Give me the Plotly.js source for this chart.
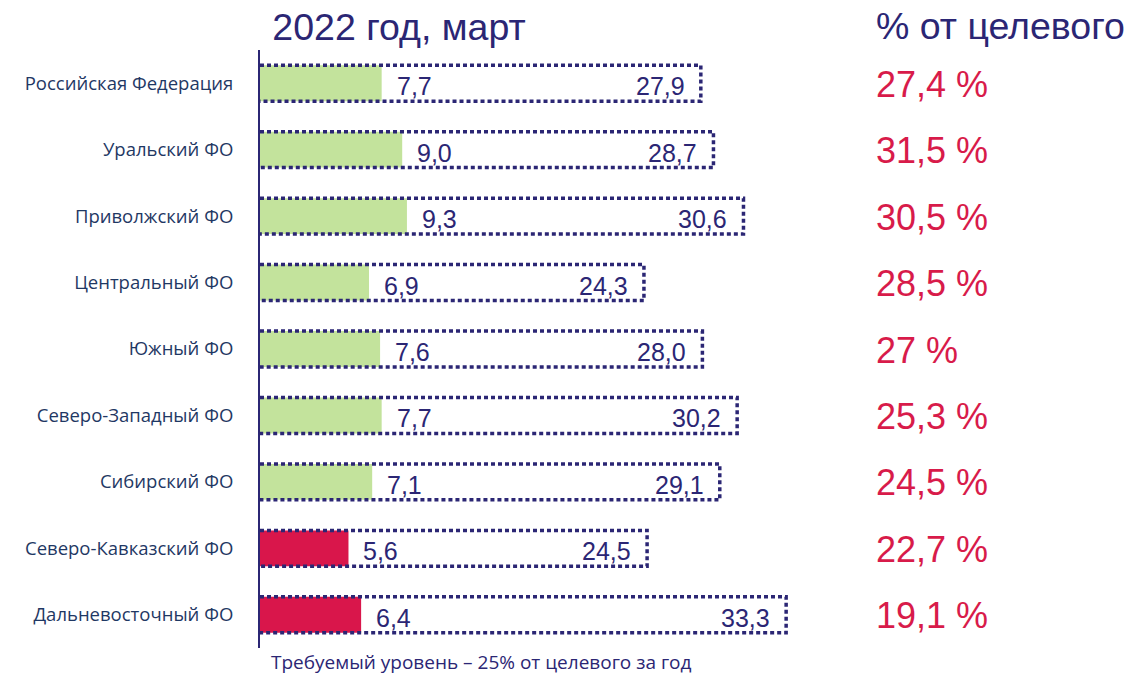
<!DOCTYPE html>
<html>
<head>
<meta charset="utf-8">
<script src="https://cdn.plot.ly/plotly-3.0.1.min.js"></script>
<style>html,body{margin:0;padding:0;background:#fff;}#chart{width:1130px;height:674px;}</style>
</head>
<body>
<div id="chart"></div>
<script>
// Data
const regions = ['Российская Федерация', 'Уральский ФО', 'Приволжский ФО', 'Центральный ФО', 'Южный ФО',
  'Северо-Западный ФО', 'Сибирский ФО', 'Северо-Кавказский ФО', 'Дальневосточный ФО'];
const actual = [7.7, 9.0, 9.3, 6.9, 7.6, 7.7, 7.1, 5.6, 6.4];
const target = [27.9, 28.7, 30.6, 24.3, 28.0, 30.2, 29.1, 24.5, 33.3];
const pctOfTarget = [27.4, 31.5, 30.5, 28.5, 27, 25.3, 24.5, 22.7, 19.1];
const status = ['ok', 'ok', 'ok', 'ok', 'ok', 'ok', 'ok', 'low', 'low'];
const titleText = '2022 год, март';
const pctTitle = '% от целевого';
const footnote = 'Требуемый уровень – 25% от целевого за год';

const NAVY = '#2b2674';
const LABEL = '#1f3864';
const GREEN = '#c3e39c';
const RED = '#d9164b';
const PINK = '#d81b4a';
const HALF = 0.27;

const fmt1 = v => v.toFixed(1).replace('.', ',');
const fmtPct = v => (Number.isInteger(v) ? String(v) : v.toFixed(1)).replace('.', ',');
const idx = regions.map((_, i) => i);

// outline path built from the target values (open on the axis side)
const ox = [], oy = [];
target.forEach((t, i) => {
  ox.push(0, t, t, 0, null);
  oy.push(i - HALF, i - HALF, i + HALF, i + HALF, null);
});

const traces = [
  {
    type: 'bar', orientation: 'h', y: idx, x: actual, width: HALF * 2,
    marker: {color: status.map(s => s === 'low' ? RED : GREEN)},
    hoverinfo: 'x+y', showlegend: false
  },
  {
    type: 'scatter', mode: 'lines', x: ox, y: oy,
    line: {color: NAVY, width: 3.5, dash: '4px,3px'},
    hoverinfo: 'skip', showlegend: false, cliponaxis: false
  }
];

const annotations = [];
idx.forEach(i => {
  annotations.push({x: actual[i], y: i, xref: 'x', yref: 'y', text: fmt1(actual[i]), showarrow: false,
    xanchor: 'left', xshift: 13, yshift: -3, font: {family: 'Liberation Sans, Arial', size: 25, color: NAVY}});
  annotations.push({x: target[i], y: i, xref: 'x', yref: 'y', text: fmt1(target[i]), showarrow: false,
    xanchor: 'right', xshift: -14, yshift: -3, font: {family: 'Liberation Sans, Arial', size: 25, color: NAVY}});
  annotations.push({x: 0.9715, y: i, xref: 'paper', yref: 'y', text: fmtPct(pctOfTarget[i]) + ' %', showarrow: false,
    xanchor: 'left', yshift: -1, font: {family: 'Liberation Sans, Arial', size: 36, color: PINK}});
});
annotations.push({x: 0.9715, y: 1.04, xref: 'paper', yref: 'paper', text: pctTitle, showarrow: false,
  xanchor: 'left', yanchor: 'middle', font: {family: 'Liberation Sans, Arial', size: 37.5, color: NAVY}});
annotations.push({x: 0.014, y: -0.023, xref: 'paper', yref: 'paper', text: footnote, showarrow: false,
  xanchor: 'left', yanchor: 'middle', font: {family: 'Open Sans', size: 19, color: NAVY}});

const layout = {
  width: 1130, height: 674,
  margin: {l: 260, r: 238, t: 50, b: 26},
  paper_bgcolor: '#ffffff', plot_bgcolor: '#ffffff',
  title: {text: titleText, x: 0.241, xanchor: 'left', xref: 'container', y: 0.96, yanchor: 'middle', yref: 'container',
    font: {family: 'Liberation Sans, Arial', size: 37.5, color: NAVY}},
  barmode: 'overlay',
  xaxis: {range: [0, 40], showgrid: false, zeroline: false, showticklabels: false, showline: false, fixedrange: true},
  yaxis: {range: [8.5, -0.5], tickvals: idx, ticktext: regions, showgrid: false, zeroline: false,
    showline: true, linecolor: NAVY, linewidth: 2, ticks: '', ticklabelstandoff: 21,
    tickfont: {family: 'Open Sans', size: 18.5, color: LABEL}, fixedrange: true},
  annotations: annotations,
  showlegend: false
};

Plotly.newPlot('chart', traces, layout, {displayModeBar: false, staticPlot: true});
</script>
</body>
</html>
